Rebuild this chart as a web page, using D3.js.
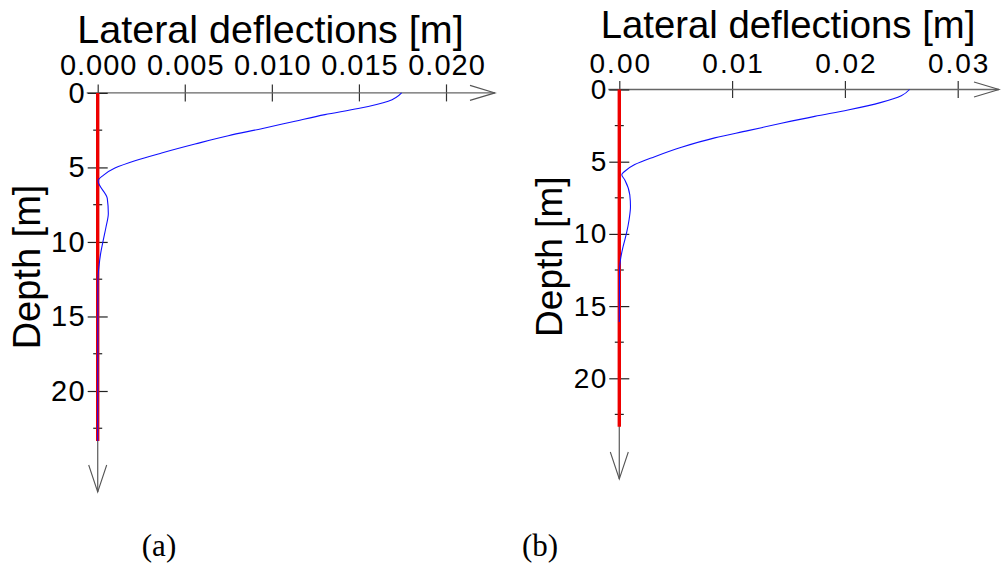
<!DOCTYPE html>
<html>
<head>
<meta charset="utf-8">
<script src="https://cdn.jsdelivr.net/npm/d3@7"></script>
<style>
  html, body { margin: 0; padding: 0; background: #fff; }
  svg { display: block; }
  text { font-family: "Liberation Sans", Arial, sans-serif; fill: #000; }
</style>
</head>
<body>
<svg id="chart" width="1001" height="568"></svg>
<script>
// Pile length [m]
const pileLength = 23.35;

// Panel (a): lateral deflection profile
const depthA = [0, 0.56, 1.05, 1.46, 1.9, 2.4, 2.87, 3.43, 4.03, 4.55, 5.04, 5.53, 5.9, 7.08, 8.09, 8.98, 9.88, 10.77, 11.67, 12.5, 23.35];
const deflA  = [0.01745, 0.01668, 0.01496, 0.01305, 0.01133, 0.00941, 0.0075, 0.00559, 0.00367, 0.00214, 0.00099, 0.00032, 0.00002, 0.00055, 0.00061, 0.00048, 0.00032, 0.00017, 0.00007, 0.00001, 0];

// Panel (b): lateral deflection profile
const depthB = [0, 0.43, 0.89, 1.42, 1.86, 2.34, 2.85, 3.35, 4.0, 4.65, 5.2, 5.66, 5.9, 6.26, 7.3, 8.1, 9.0, 9.95, 10.87, 11.8, 12.5, 16.1];
const deflB  = [0.02573, 0.0250, 0.02322, 0.02027, 0.01732, 0.01437, 0.01141, 0.00846, 0.00551, 0.00314, 0.00137, 0.00049, 0.00022, 0.00049, 0.00093, 0.00099, 0.00087, 0.00064, 0.00034, 0.0001, 0.00002, 0];

// Tick values
const xTicksA = [0, 0.005, 0.010, 0.015, 0.020];
const xTicksB = [0, 0.01, 0.02, 0.03];
const depthMajor = [0, 5, 10, 15, 20];
const depthMinor = [2.5, 7.5, 12.5, 17.5, 22.5];

const xTitle = "Lateral deflections [m]";
const yTitle = "Depth [m]";

const svg = d3.select("#chart");

function drawPanel(p) {
  const g = svg.append("g");
  const x = d3.scaleLinear().domain(p.xDomain).range(p.xRange);
  const y = d3.scaleLinear().domain([0, 20]).range(p.yRange);
  const x0 = x(0), y0 = y(0);

  // top (horizontal) axis
  const xAxis = d3.axisTop(x).tickValues(p.xTicks).tickFormat(p.fmt)
    .tickSizeInner(8.5).tickSizeOuter(0).tickPadding(p.xPad);
  const gx = g.append("g").attr("transform", `translate(0,${y0})`).call(xAxis);
  gx.select(".domain").remove();
  gx.selectAll(".tick line").attr("y1", -8.5).attr("y2", 8.5).attr("stroke", "#333").attr("stroke-width", 1.2);
  gx.selectAll(".tick text").attr("font-size", p.tickFont)
    .style("letter-spacing", p.xSpacing + "px").attr("dx", p.xSpacing / 2)
    .attr("font-family", "Liberation Sans, Arial, sans-serif").attr("fill", "#000");
  // horizontal axis line with open arrow
  g.append("line").attr("x1", x0 - 11).attr("x2", p.xArrow).attr("y1", y0).attr("y2", y0)
    .attr("stroke", "#666").attr("stroke-width", 1.3);
  g.append("path")
    .attr("d", `M${p.xArrow - 25},${y0 - 7.5}L${p.xArrow},${y0}L${p.xArrow - 25},${y0 + 7.5}`)
    .attr("fill", "none").attr("stroke", "#555").attr("stroke-width", 1.1);

  // vertical (depth) axis line with open arrow
  g.append("line").attr("x1", x0).attr("x2", x0).attr("y1", y0).attr("y2", p.yArrow)
    .attr("stroke", "#666").attr("stroke-width", 1.3);
  g.append("path")
    .attr("d", `M${x0 - 9},${p.yArrow - 27}L${x0},${p.yArrow}L${x0 + 9},${p.yArrow - 27}`)
    .attr("fill", "none").attr("stroke", "#555").attr("stroke-width", 1.1);

  // depth ticks
  const yAxis = d3.axisLeft(y).tickValues(depthMajor).tickFormat(d3.format("d"))
    .tickSizeInner(10).tickSizeOuter(0).tickPadding(1.5);
  const gy = g.append("g").attr("transform", `translate(${x0},0)`).call(yAxis);
  gy.select(".domain").remove();
  gy.selectAll(".tick line").attr("x1", -10).attr("x2", 10).attr("stroke", "#222").attr("stroke-width", 1.2);
  gy.selectAll(".tick text").attr("font-size", p.tickFont).style("letter-spacing", "1.5px")
    .attr("font-family", "Liberation Sans, Arial, sans-serif").attr("fill", "#000");
  g.append("g").selectAll("line").data(depthMinor).join("line")
    .attr("x1", x0 - 4.5).attr("x2", x0 + 4.5).attr("y1", d => y(d)).attr("y2", d => y(d))
    .attr("stroke", "#222").attr("stroke-width", 1.2);

  // pile (red)
  g.append("line").attr("x1", x0).attr("x2", x0).attr("y1", y0).attr("y2", y(pileLength))
    .attr("stroke", "#ee0000").attr("stroke-width", 3.4);

  // deflection curve (blue)
  const pts = p.depth.map((d, i) => [p.defl[i], d]);
  g.append("path").datum(pts)
    .attr("d", d3.line().curve(d3.curveMonotoneY).x(d => x(d[0])).y(d => y(d[1])))
    .attr("fill", "none").attr("stroke", "#1010ff").attr("stroke-width", 1.1);

  // titles
  g.append("text").attr("x", p.titleX).attr("y", p.titleY).attr("text-anchor", "middle")
    .attr("font-size", p.titleFont).text(xTitle);
  g.append("text").attr("transform", `translate(${p.yTitleX},${p.yTitleY}) rotate(-90)`)
    .attr("text-anchor", "middle").attr("font-size", p.yTitleFont).text(yTitle);

  // panel caption
  g.append("text").attr("x", p.capX).attr("y", 556).attr("text-anchor", "middle")
    .attr("font-size", 31)
    .style("font-family", "'Liberation Serif', 'Times New Roman', serif").text(p.caption);
}

drawPanel({
  xDomain: [0, 0.02], xRange: [97.7, 446], yRange: [92.9, 391],
  xTicks: xTicksA, fmt: d3.format(".3f"), xPad: 9.8, tickFont: 29, xSpacing: 1,
  xArrow: 495, yArrow: 492,
  depth: depthA, defl: deflA,
  titleX: 270.5, titleY: 42.7, titleFont: 39.5,
  yTitleX: 40, yTitleY: 267, yTitleFont: 38,
  capX: 159, caption: "(a)"
});

drawPanel({
  xDomain: [0, 0.03], xRange: [619.3, 957.7], yRange: [89.5, 378.3],
  xTicks: xTicksB, fmt: d3.format(".2f"), xPad: 8.5, tickFont: 28, xSpacing: 2,
  xArrow: 999, yArrow: 479,
  depth: depthB, defl: deflB,
  titleX: 788, titleY: 37.7, titleFont: 38.3,
  yTitleX: 561.5, yTitleY: 256.7, yTitleFont: 37,
  capX: 540, caption: "(b)"
});
</script>
</body>
</html>
